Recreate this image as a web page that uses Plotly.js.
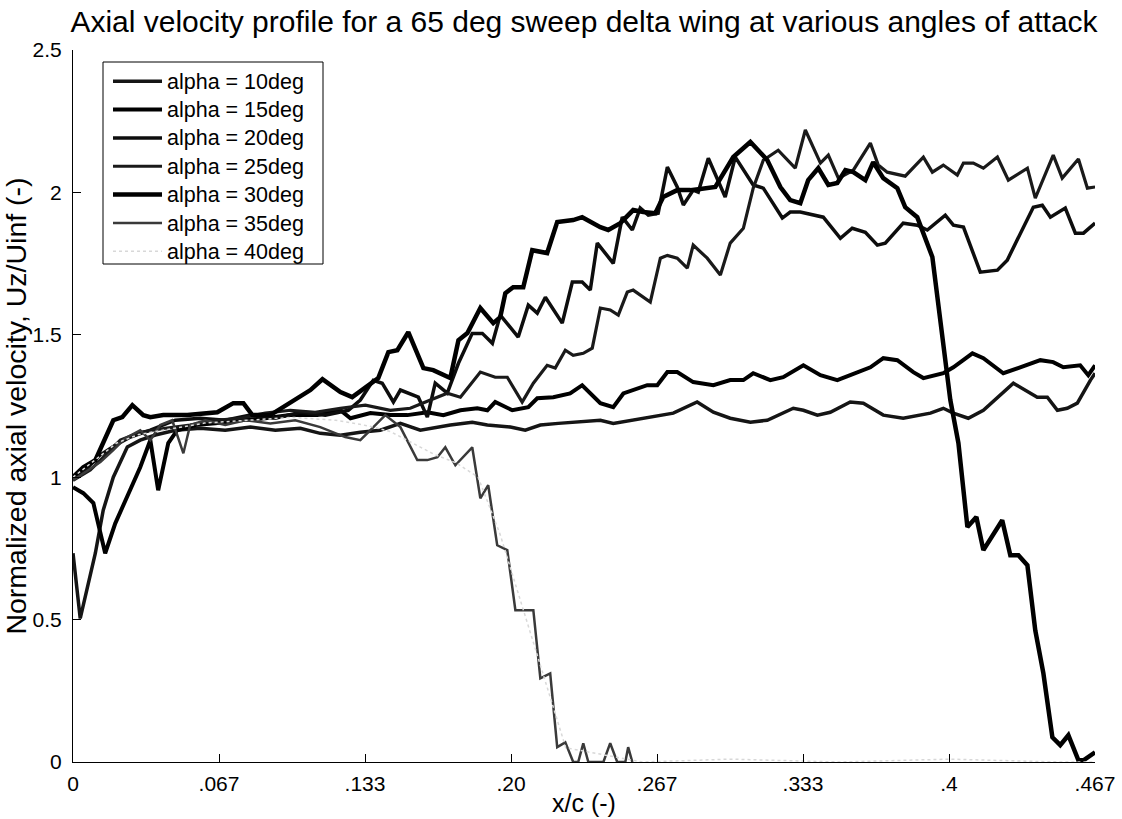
<!DOCTYPE html>
<html>
<head>
<meta charset="utf-8">
<script src="https://cdn.plot.ly/plotly-3.0.1.min.js"></script>
<style>
html,body{margin:0;padding:0;background:#fff;}
#chart{width:1122px;height:819px;}
#chart .legendtext{font-size:21.5px !important;}
#chart .legend .scrollbox{clip-path:none !important;}
</style>
</head>
<body>
<div id="chart"></div>
<script>
// ---- data (x/c, Uz/Uinf) ----
const seriesNames = ["alpha = 10deg","alpha = 15deg","alpha = 20deg","alpha = 25deg","alpha = 30deg","alpha = 35deg","alpha = 40deg"];

const x10 = [0,0.0033,0.0102,0.0138,0.0184,0.0248,0.0307,0.0376,0.0467,0.0581,0.0695,0.0810,0.0924,0.1038,0.1129,0.1221,0.1312,0.1403,0.1495,0.1586,0.1723,0.1823,0.1892,0.1997,0.2065,0.2134,0.2216,0.2303,0.2408,0.2467,0.2558,0.2650,0.2741,0.2850,0.2924,0.3001,0.3093,0.3170,0.3289,0.3335,0.3399,0.3458,0.3549,0.3609,0.3700,0.3791,0.3915,0.3974,0.4020,0.4088,0.4157,0.4294,0.4403,0.4449,0.4495,0.4540,0.4586,0.4646,0.4667];
const y10 = [0.733,0.504,0.733,0.884,1.000,1.106,1.130,1.148,1.165,1.172,1.165,1.176,1.165,1.172,1.154,1.147,1.158,1.165,1.189,1.165,1.183,1.193,1.183,1.176,1.165,1.183,1.189,1.193,1.200,1.189,1.200,1.211,1.225,1.264,1.228,1.207,1.193,1.200,1.242,1.235,1.218,1.228,1.264,1.260,1.218,1.207,1.225,1.242,1.225,1.207,1.235,1.330,1.281,1.281,1.235,1.242,1.260,1.341,1.365];

const x15 = [0,0.0047,0.0093,0.0147,0.0193,0.0248,0.0307,0.0353,0.0389,0.0435,0.0476,0.0558,0.0650,0.0764,0.0878,0.0992,0.1116,0.1221,0.1267,0.1358,0.1449,0.1527,0.1618,0.1691,0.1769,0.1846,0.1892,0.1928,0.2006,0.2079,0.2120,0.2193,0.2270,0.2325,0.2408,0.2467,0.2513,0.2622,0.2668,0.2714,0.2759,0.2832,0.2924,0.3001,0.3061,0.3106,0.3184,0.3243,0.3335,0.3413,0.3490,0.3549,0.3641,0.3700,0.3764,0.3837,0.3883,0.3974,0.4020,0.4107,0.4157,0.4248,0.4326,0.4417,0.4476,0.4522,0.4599,0.4636,0.4667];
const y15 = [0.965,0.944,0.909,0.733,0.838,0.930,1.035,1.130,0.954,1.120,1.165,1.183,1.189,1.200,1.207,1.218,1.218,1.235,1.207,1.225,1.218,1.218,1.228,1.218,1.235,1.242,1.235,1.264,1.235,1.246,1.277,1.281,1.294,1.323,1.260,1.246,1.294,1.323,1.323,1.369,1.369,1.334,1.323,1.341,1.341,1.365,1.341,1.351,1.393,1.358,1.341,1.358,1.386,1.418,1.411,1.369,1.348,1.365,1.386,1.435,1.418,1.365,1.386,1.411,1.404,1.386,1.393,1.358,1.393];

const x20 = [0,0.0056,0.0122,0.0193,0.0262,0.0353,0.0467,0.0581,0.0695,0.0810,0.0924,0.1038,0.1152,0.1257,0.1312,0.1371,0.1412,0.1463,0.1495,0.1577,0.1618,0.1654,0.1709,0.1760,0.1823,0.1869,0.1915,0.1951,0.2033,0.2079,0.2120,0.2157,0.2234,0.2280,0.2325,0.2362,0.2394,0.2467,0.2508,0.2554,0.2590,0.2627,0.2672,0.2714,0.2759,0.2787,0.2832,0.2855,0.2901,0.2978,0.3024,0.3106,0.3152,0.3239,0.3275,0.3321,0.3426,0.3504,0.3558,0.3618,0.3673,0.3709,0.3791,0.3855,0.3901,0.3983,0.4020,0.4066,0.4143,0.4221,0.4266,0.4385,0.4426,0.4463,0.4531,0.4577,0.4614,0.4667];
const y20 = [1.000,1.025,1.077,1.112,1.141,1.165,1.200,1.207,1.200,1.218,1.207,1.228,1.218,1.235,1.271,1.340,1.330,1.264,1.306,1.281,1.211,1.330,1.295,1.400,1.505,1.505,1.470,1.569,1.492,1.604,1.576,1.632,1.541,1.685,1.685,1.657,1.822,1.751,1.913,1.868,1.945,1.920,1.927,2.089,2.019,1.956,2.008,2.001,2.120,1.984,2.124,2.026,2.015,1.910,1.931,1.931,1.913,1.839,1.874,1.860,1.815,1.822,1.892,1.885,1.868,1.920,1.885,1.878,1.720,1.727,1.762,1.948,1.955,1.913,1.945,1.857,1.857,1.892];

const x25 = [0,0.0079,0.0147,0.0216,0.0307,0.0421,0.0535,0.0650,0.0764,0.0878,0.0992,0.1106,0.1221,0.1335,0.1449,0.1540,0.1632,0.1709,0.1769,0.1860,0.1928,0.1983,0.2051,0.2102,0.2165,0.2202,0.2248,0.2284,0.2330,0.2371,0.2408,0.2453,0.2490,0.2531,0.2558,0.2636,0.2682,0.2714,0.2759,0.2805,0.2832,0.2896,0.2956,0.3001,0.3061,0.3106,0.3152,0.3220,0.3298,0.3344,0.3413,0.3449,0.3495,0.3563,0.3641,0.3677,0.3718,0.3800,0.3883,0.3924,0.3974,0.4038,0.4066,0.4111,0.4157,0.4221,0.4271,0.4358,0.4394,0.4476,0.4517,0.4591,0.4632,0.4667];
const y25 = [0.989,1.025,1.077,1.130,1.158,1.172,1.183,1.200,1.207,1.225,1.235,1.228,1.242,1.253,1.235,1.242,1.271,1.295,1.281,1.369,1.351,1.351,1.264,1.330,1.393,1.383,1.446,1.428,1.435,1.453,1.594,1.587,1.569,1.650,1.657,1.615,1.769,1.779,1.769,1.734,1.815,1.769,1.710,1.822,1.874,2.015,2.113,2.148,2.085,2.219,2.103,2.131,2.050,2.078,2.173,2.096,2.071,2.057,2.124,2.071,2.096,2.061,2.103,2.103,2.085,2.124,2.043,2.085,1.980,2.131,2.050,2.117,2.015,2.019];

const x30 = [0,0.0047,0.0102,0.0147,0.0184,0.0225,0.0271,0.0321,0.0353,0.0412,0.0522,0.0659,0.0732,0.0778,0.0819,0.0901,0.0960,0.1006,0.1084,0.1139,0.1221,0.1275,0.1358,0.1394,0.1440,0.1481,0.1531,0.1600,0.1645,0.1723,0.1760,0.1801,0.1860,0.1919,0.1951,0.1974,0.2010,0.2056,0.2097,0.2165,0.2211,0.2284,0.2325,0.2408,0.2444,0.2499,0.2558,0.2604,0.2659,0.2695,0.2759,0.2819,0.2864,0.2933,0.3015,0.3093,0.3170,0.3230,0.3275,0.3321,0.3357,0.3403,0.3449,0.3490,0.3527,0.3563,0.3618,0.3654,0.3700,0.3764,0.3800,0.3855,0.3924,0.4006,0.4043,0.4084,0.4125,0.4157,0.4243,0.4280,0.4317,0.4358,0.4394,0.4431,0.4472,0.4508,0.4545,0.4591,0.4614,0.4646,0.4667];
const y30 = [1.000,1.035,1.060,1.141,1.200,1.211,1.253,1.218,1.211,1.218,1.218,1.228,1.260,1.260,1.218,1.218,1.246,1.271,1.306,1.344,1.299,1.281,1.330,1.348,1.439,1.446,1.509,1.383,1.376,1.348,1.481,1.506,1.594,1.541,1.562,1.646,1.667,1.667,1.797,1.787,1.896,1.903,1.913,1.878,1.868,1.892,1.938,1.931,1.927,1.984,2.008,2.008,2.012,2.019,2.124,2.177,2.114,2.019,1.973,1.962,2.043,2.085,2.026,2.033,2.078,2.071,2.043,2.106,2.050,2.015,1.948,1.913,1.773,1.271,1.120,0.825,0.860,0.744,0.849,0.726,0.726,0.691,0.462,0.311,0.087,0.059,0.094,0.006,0.006,0.023,0.034];

const x35 = [0,0.0057,0.0125,0.0184,0.0239,0.0307,0.0353,0.0398,0.0453,0.0504,0.0535,0.0604,0.0695,0.0787,0.0901,0.1015,0.1129,0.1243,0.1312,0.1358,0.1426,0.1495,0.1527,0.1572,0.1618,0.1664,0.1700,0.1746,0.1823,0.1860,0.1896,0.1937,0.1983,0.2020,0.2102,0.2134,0.2179,0.2211,0.2248,0.2284,0.2307,0.2330,0.2353,0.2422,0.2453,0.2485,0.2522,0.2535,0.2554];
const y35 = [0.989,1.018,1.053,1.095,1.137,1.165,1.130,1.183,1.200,1.084,1.183,1.200,1.183,1.200,1.189,1.200,1.176,1.141,1.130,1.165,1.218,1.176,1.130,1.060,1.060,1.070,1.105,1.042,1.105,0.926,0.972,0.761,0.744,0.533,0.533,0.294,0.311,0.052,0.069,0.000,0.000,0.066,0.000,0.000,0.066,0.000,0.000,0.052,0.000];

const x40 = [0,0.010,0.020,0.030,0.045,0.060,0.080,0.100,0.120,0.135,0.145,0.155,0.165,0.175,0.185,0.195,0.205,0.215,0.225,0.260,0.300,0.350,0.400,0.450,0.4667];
const y40 = [1.000,1.060,1.120,1.150,1.170,1.190,1.200,1.210,1.200,1.180,1.160,1.120,1.080,1.050,1.000,0.800,0.550,0.300,0.050,0.000,0.010,0.000,0.010,0.000,0.000];

const xTickVals = [0, 1/15, 2/15, 3/15, 4/15, 5/15, 6/15, 7/15];
const xTickText = ["0", ".067", ".133", ".20", ".267", ".333", ".4", ".467"];
const yTickVals = [0, 0.5, 1, 1.5, 2, 2.5];
const yTickText = ["0", "0.5", "1", "1.5", "2", "2.5"];

// ---- styles ----
const xs = [x10, x15, x20, x25, x30, x35, x40];
const ys = [y10, y15, y20, y25, y30, y35, y40];
const styles = [
  {color: "#151515", width: 3.5},
  {color: "#000000", width: 4},
  {color: "#0d0d0d", width: 3.5},
  {color: "#1a1a1a", width: 3.2},
  {color: "#000000", width: 4.5},
  {color: "#3a3a3a", width: 2.5, dash: "solid"},
  {color: "#d8d8d8", width: 1.5, dash: "dot"}
];

const FONT = "Liberation Sans, Arial, Helvetica, sans-serif";

const traces = xs.map((x, i) => ({
  type: "scatter",
  mode: "lines",
  x: x,
  y: ys[i],
  name: seriesNames[i],
  legendgroup: "g" + i,
  line: Object.assign({shape: "linear"}, styles[i]),
  hoverinfo: "skip"
}));

const L = 73, R = 27, T = 50, B = 57;
const W = 1122, H = 819;
const pw = W - L - R, ph = H - T - B;

const layout = {
  width: W, height: H,
  margin: {l: L, r: R, t: T, b: B, pad: 0},
  paper_bgcolor: "#ffffff",
  plot_bgcolor: "#ffffff",
  font: {family: FONT, color: "#000"},
  showlegend: true,
  title: {
    text: "Axial velocity profile for a 65 deg sweep delta wing at various angles of attack",
    font: {family: FONT, size: 30, color: "#000"},
    xref: "paper", x: 0.5, xanchor: "center",
    yref: "container", y: 1 - 21 / H, yanchor: "middle"
  },
  xaxis: {
    range: [0, 7/15],
    tickmode: "array", tickvals: xTickVals, ticktext: xTickText,
    ticks: "inside", ticklen: 8, tickwidth: 1, tickcolor: "#000",
    showline: true, linecolor: "#000", linewidth: 1,
    showgrid: false, zeroline: false, mirror: false,
    tickfont: {family: FONT, size: 21, color: "#000"},
    ticklabelstandoff: 3,
    title: {text: "x/c (-)", font: {family: FONT, size: 25, color: "#000"}, standoff: 0},
    automargin: false, fixedrange: true
  },
  yaxis: {
    range: [0, 2.5],
    tickmode: "array", tickvals: yTickVals, ticktext: yTickText,
    ticks: "inside", ticklen: 8, tickwidth: 1, tickcolor: "#000",
    showline: true, linecolor: "#000", linewidth: 1,
    showgrid: false, zeroline: false, mirror: false,
    tickfont: {family: FONT, size: 21, color: "#000"},
    ticklabelstandoff: 6,
    title: {text: "Normalized axial velocity, Uz/Uinf (-)", font: {family: FONT, size: 28.5, color: "#000"}, standoff: 4},
    automargin: false, fixedrange: true
  },
  legend: {
    x: (108 - L) / pw, xanchor: "left",
    y: (H - B - 62) / ph, yanchor: "top",
    bgcolor: "rgba(0,0,0,0)", borderwidth: 0,
    font: {family: FONT, size: 19.5, color: "#000"},
    itemwidth: 49,
    tracegroupgap: 0, traceorder: "normal"
  },
  shapes: [{
    type: "rect", xref: "paper", yref: "paper", layer: "below",
    x0: (103 - L) / pw, x1: (323 - L) / pw,
    y0: (H - B - 264) / ph, y1: (H - B - 62) / ph,
    line: {color: "#000", width: 1}, fillcolor: "#ffffff"
  }]
};

Plotly.newPlot("chart", traces, layout, {displayModeBar: false, staticPlot: true});
</script>
</body>
</html>
